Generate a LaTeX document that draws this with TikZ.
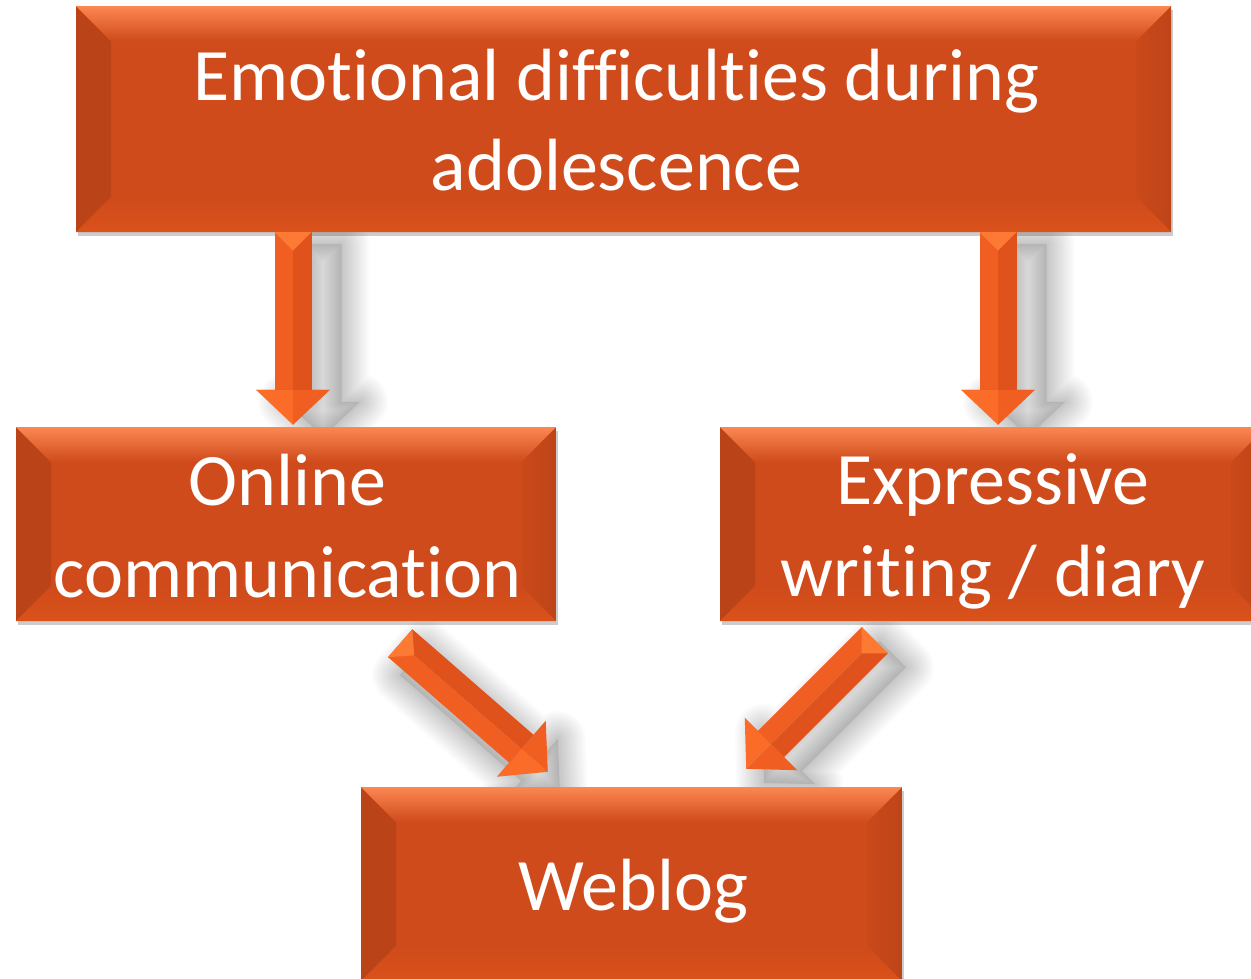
\documentclass[tikz,border=0pt]{standalone}
\usepackage{fontspec}
\setmainfont[Ligatures=NoCommon]{Carlito}
\usetikzlibrary{calc,shadows}
\pgfdeclarelayer{paper}
\pgfdeclarelayer{shade}
\pgfsetlayers{paper,shade,main}
\definecolor{boxmain}{RGB}{207,75,27}
\definecolor{boxtop}{RGB}{252,135,82}
\definecolor{boxleft}{RGB}{200,72,26}
\definecolor{boxright}{RGB}{202,73,26}
\definecolor{boxbottom}{RGB}{218,82,27}
\definecolor{arrA}{RGB}{240,95,33}
\definecolor{arrB}{RGB}{224,82,28}
\definecolor{arrTail}{RGB}{252,122,52}
\definecolor{arrHead}{RGB}{250,108,40}
\tikzset{
  box/.style={fill=boxmain, text=white, align=center, inner sep=0pt,
    drop shadow={shadow xshift=2pt, shadow yshift=-4pt, opacity=.2, fill=black},
    path picture={
      \def\pb{path picture bounding box}
      \shade[left color=boxleft!93!black, right color=boxleft]
        (\pb.north west) -- ($(\pb.north west)+(35,35)$) -- ($(\pb.south west)+(35,-35)$) -- (\pb.south west) -- cycle;
      \shade[left color=boxright, right color=boxright!94!black]
        (\pb.north east) -- ($(\pb.north east)+(-35,35)$) -- ($(\pb.south east)+(-35,-35)$) -- (\pb.south east) -- cycle;
      \shade[top color=boxtop, bottom color=boxmain]
        (\pb.north west) -- (\pb.north east) -- ($(\pb.north east)+(-35,35)$) -- ($(\pb.north west)+(35,35)$) -- cycle;
      \shade[top color=boxmain, bottom color=boxbottom]
        (\pb.south west) -- (\pb.south east) -- ($(\pb.south east)+(-35,-35)$) -- ($(\pb.south west)+(35,-35)$) -- cycle;
    }},
  label text/.style={text=white, align=center, inner sep=0pt,
    font=\fontsize{74}{91}\selectfont, anchor=base},
  arrowshadow/.style={draw=black, draw opacity=0.012, line join=round},
}
% #1 start, #2 end, #3/#4 shadow shift (pt)
\newcommand\blockarrow[4]{%
  \path ($(#2)!35pt!(#1)$) coordinate (H)
        ($(#1)!18.5pt!90:(#2)$) coordinate (SR)
        ($(#1)!18.5pt!-90:(#2)$) coordinate (SL)
        ($(H)!18.5pt!90:(#2)$) coordinate (HR)
        ($(H)!18.5pt!-90:(#2)$) coordinate (HL)
        ($(H)!37pt!90:(#2)$) coordinate (WR)
        ($(H)!37pt!-90:(#2)$) coordinate (WL)
        ($(#1)!18.5pt!(#2)$) coordinate (T);
  \begin{pgfonlayer}{shade}
    \fill[black, opacity=0.07, transform canvas={shift={(#3pt,#4pt)}}]
        (SL) -- (HL) -- (WL) -- (#2) -- (WR) -- (HR) -- (SR) -- cycle;
    \foreach \w in {2,5,...,56}{
      \draw[arrowshadow, line width=\w pt, transform canvas={shift={(#3pt,#4pt)}}]
        (SL) -- (HL) -- (WL) -- (#2) -- (WR) -- (HR) -- (SR) -- cycle;}
  \end{pgfonlayer}
  \fill[arrA] (SL) -- (HL) -- (H) -- (#1) -- cycle;
  \fill[arrB] (SR) -- (HR) -- (H) -- (#1) -- cycle;
  \fill[arrHead] (WL) -- (#2) -- (H) -- cycle;
  \fill[arrA] (WR) -- (#2) -- (H) -- cycle;
  \fill[arrB!92!black] (HL) -- (WL) -- (H) -- cycle;
  \fill[arrB] (HR) -- (WR) -- (H) -- cycle;
  \fill[arrTail] (SL) -- (SR) -- (T) -- cycle;
}
\begin{document}
\begin{tikzpicture}[x=1pt,y=-1pt]
\useasboundingbox (0,0) rectangle (1251,978);
\begin{pgfonlayer}{paper}
  \fill[white] (0,0) rectangle (1251,978);
\end{pgfonlayer}

\node[box, minimum width=1095pt, minimum height=226pt] (emo) at (623.5,119) {};
\node[box, minimum width=540pt, minimum height=194pt] (online) at (286,524) {};
\node[box, minimum width=546pt, minimum height=194pt] (expr) at (993,524) {};
\node[box, minimum width=541pt, minimum height=194pt] (weblog) at (631.5,884) {};

\node[label text] (emo-l1) at ($(emo.center)+(-7,-19)$) {Emotional difficulties during};
\node[label text] (emo-l2) at ($(emo.center)+(-7,71)$) {adolescence};
\node[label text] (online-l1) at ($(online.center)+(1.5,-19)$) {Online};
\node[label text] (online-l2) at ($(online.center)+(1.5,73)$) {communication};
\node[label text] (expr-l1) at ($(expr.center)+(0,-20)$) {Expressive};
\node[label text] (expr-l2) at ($(expr.center)+(0,72)$) {writing / diary};
\node[label text] (weblog-l1) at ($(weblog.center)+(2,26)$) {Weblog};

\coordinate (a1s) at ($(emo.south -| online.north)+(7,0)$);
\coordinate (a1e) at ($(online.north)+(7,-2)$);
\coordinate (a2s) at ($(emo.south -| expr.north)+(5,0)$);
\coordinate (a2e) at ($(expr.north)+(5,-2)$);
\coordinate (a3s) at ($(online.south east)+(-156,22)$);
\coordinate (a3e) at ($(weblog.north west)+(187,-15)$);
\coordinate (a4s) at ($(expr.south west)+(155,19)$);
\coordinate (a4e) at ($(weblog.north east)+(-156,-18)$);

\blockarrow{a1s}{a1e}{30}{-12}
\blockarrow{a2s}{a2e}{30}{-12}
\blockarrow{a3s}{a3e}{12}{-18}
\blockarrow{a4s}{a4e}{18}{-14}
\end{tikzpicture}
\end{document}
